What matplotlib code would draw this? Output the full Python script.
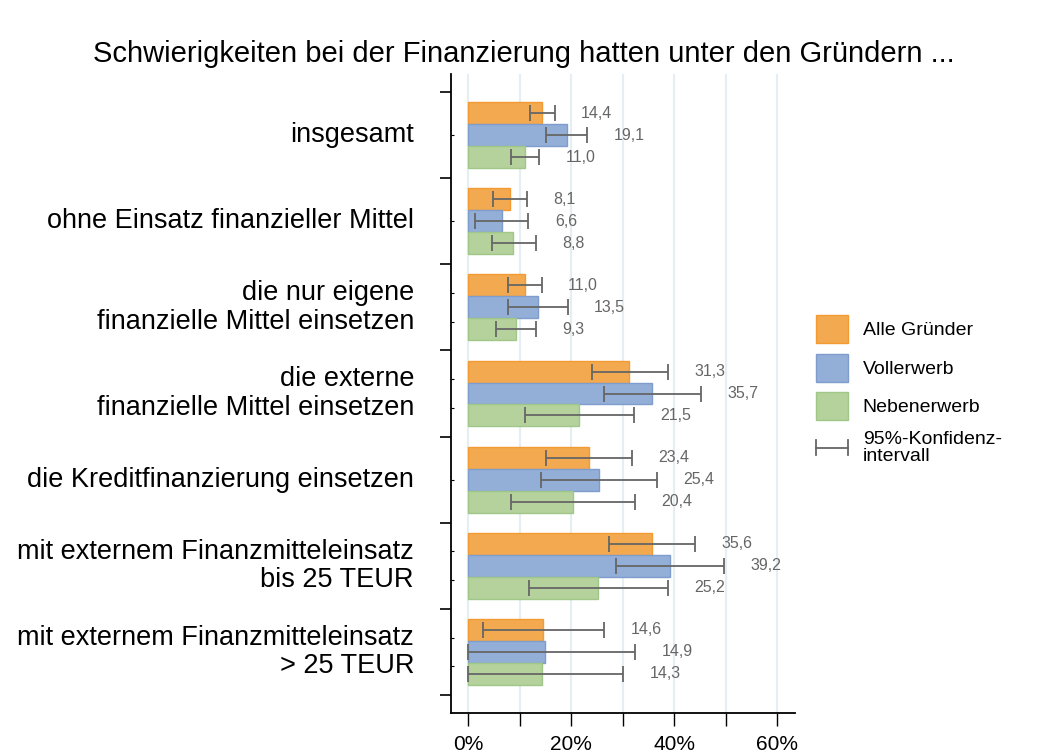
import matplotlib
matplotlib.use("Agg")
import matplotlib.pyplot as plt
import numpy as np
from matplotlib.lines import Line2D
from matplotlib.patches import Patch
from matplotlib.legend_handler import HandlerBase
from matplotlib import transforms

plt.rcParams['font.family'] = ['Liberation Sans', 'DejaVu Sans']

categories = ["insgesamt",
              "ohne Einsatz finanzieller Mittel",
              "die nur eigene\nfinanzielle Mittel einsetzen",
              "die externe\nfinanzielle Mittel einsetzen",
              "die Kreditfinanzierung einsetzen",
              "mit externem Finanzmitteleinsatz\nbis 25 TEUR",
              "mit externem Finanzmitteleinsatz\n> 25 TEUR"]
series_names = ["Alle Gründer", "Vollerwerb", "Nebenerwerb"]

alle = [14.4, 8.1, 11.0, 31.3, 23.4, 35.6, 14.6]
voll = [19.1, 6.6, 13.5, 35.7, 25.4, 39.2, 14.9]
neben = [11.0, 8.8, 9.3, 21.5, 20.4, 25.2, 14.3]

alle_lo = [12.0, 4.8, 7.7, 24.1, 15.1, 27.3, 2.9]
alle_hi = [16.8, 11.4, 14.3, 38.7, 31.7, 44.1, 26.4]
voll_lo = [15.1, 1.4, 7.7, 26.4, 14.1, 28.7, 0.0]
voll_hi = [23.1, 11.7, 19.3, 45.2, 36.7, 49.7, 32.4]
neben_lo = [8.3, 4.6, 5.5, 11.1, 8.3, 11.8, 0.0]
neben_hi = [13.8, 13.1, 13.1, 32.1, 32.4, 38.8, 30.1]

xticks = [0, 10, 20, 30, 40, 50, 60]
xticklabels = ["0%", "", "20%", "", "40%", "", "60%"]

fills = ["#F2A950", "#94AFD7", "#B5D29C"]
edges = ["#F39B32", "#7E9DCD", "#A0C688"]
ci_color = "#666666"

W, H = 1059, 756
fig = plt.figure(figsize=(W / 100, H / 100), dpi=100)
ax = fig.add_axes([451 / W, (H - 713) / H, (795 - 451) / W, (713 - 74) / H])

n = len(categories)
y = np.arange(n)
bh = 0.255
vals = [alle, voll, neben]
los = [alle_lo, voll_lo, neben_lo]
his = [alle_hi, voll_hi, neben_hi]

for k in range(3):
    yy = y + (k - 1) * bh
    ax.barh(yy, vals[k], height=bh, color=fills[k], edgecolor=edges[k],
            linewidth=1.0, zorder=2)
    v = np.array(vals[k]); lo = np.array(los[k]); hi = np.array(his[k])
    ax.errorbar(v, yy, xerr=[v - lo, hi - v], fmt='none', ecolor=ci_color,
                elinewidth=1.3, capsize=5.5, capthick=1.3, zorder=3)
    for yi, vi, hii in zip(yy, vals[k], his[k]):
        ax.annotate(f"{vi:.1f}".replace('.', ','), xy=(max(hii, vi), yi),
                    xytext=(19, 0), textcoords='offset points',
                    ha='left', va='center', fontsize=11.5, color='#666666')

ax.set_xlim(-3.3, 63.4)
ax.set_ylim(n - 0.5 + 0.209, -0.5 - 0.209)

ax.set_xticks(xticks)
ax.set_xticklabels(xticklabels, fontsize=15)
ax.tick_params(axis='x', direction='out', length=9.5, width=1.0, pad=6,
               colors='black')
ax.grid(axis='x', color='#E5EEF2', linewidth=1.6, zorder=0)
ax.set_axisbelow(True)

# category separators (major) and label-line ticks (minor)
ax.set_yticks(np.arange(n + 1) - 0.5)
ax.set_yticklabels([])
minor = []
for i, c in enumerate(categories):
    if "\n" in c:
        minor += [i - 1 / 6, i + 1 / 6]
    else:
        minor += [i]
ax.set_yticks(minor, minor=True)
ax.tick_params(axis='y', which='major', direction='out', length=8, width=1.2)
ax.tick_params(axis='y', which='minor', direction='in', length=2, width=0.8)

for s in ['top', 'right']:
    ax.spines[s].set_visible(False)
for s in ['left', 'bottom']:
    ax.spines[s].set_linewidth(1.3)
    ax.spines[s].set_color('black')

trans = transforms.blended_transform_factory(ax.transAxes, ax.transData) + \
    transforms.ScaledTranslation(-37 / 100, 0, fig.dpi_scale_trans)
for i, c in enumerate(categories):
    ax.text(0, i, c, transform=trans, ha='right', va='center',
            multialignment='right', fontsize=19.5, color='black',
            linespacing=1.12)

fig.text(523.5 / W, 1 - 62 / H, "Schwierigkeiten bei der Finanzierung hatten unter den Gründern ...",
         ha='center', va='baseline', fontsize=21, color='black')


class HandlerCI(HandlerBase):
    def create_artists(self, legend, orig_handle, xdescent, ydescent,
                       width, height, fontsize, trans):
        yc = height / 2 - ydescent
        x0 = -xdescent
        x1 = x0 + width
        h = 5.5
        arts = [Line2D([x0, x1], [yc, yc], color=ci_color, lw=1.3),
                Line2D([x0, x0], [yc - h, yc + h], color=ci_color, lw=1.3),
                Line2D([x1, x1], [yc - h, yc + h], color=ci_color, lw=1.3)]
        for a in arts:
            a.set_transform(trans)
        return arts


handles = [Patch(facecolor=fills[k], edgecolor=edges[k], linewidth=1.0)
           for k in range(3)]
ci_handle = Line2D([], [], color=ci_color)
leg = fig.legend(handles + [ci_handle],
                 series_names + ["95%-Konfidenz-\nintervall"],
                 loc='upper left', bbox_to_anchor=(816 / W, 1 - 315 / H),
                 frameon=False, fontsize=14, borderpad=0, borderaxespad=0,
                 handlelength=1.65, handleheight=1.84, handletextpad=0.75,
                 labelspacing=0.54,
                 handler_map={ci_handle: HandlerCI()})
for t in leg.get_texts():
    t.set_linespacing(1.0)

fig.savefig("out.png", dpi=100)
